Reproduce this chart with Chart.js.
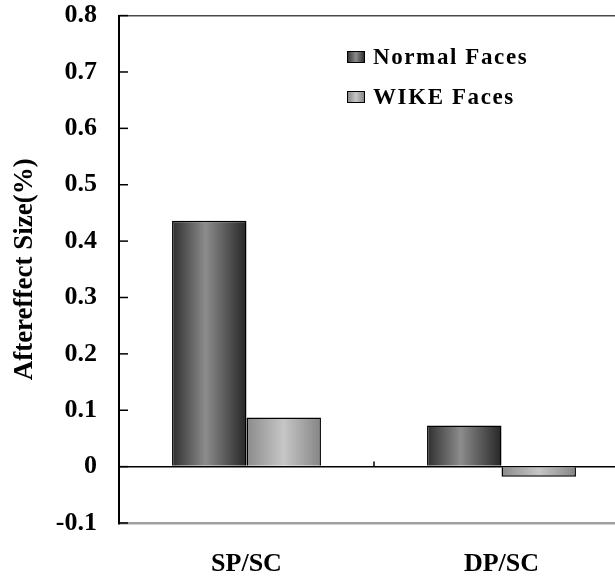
<!DOCTYPE html>
<html>
<head>
<meta charset="utf-8">
<script src="https://cdn.jsdelivr.net/npm/chart.js@4.4.1/dist/chart.umd.min.js"></script>
<style>
  html, body { margin: 0; padding: 0; background: #fff; overflow: hidden; }
  #wrap { position: relative; width: 615px; height: 579px; overflow: hidden; }
  #chart { position: absolute; left: 0; top: -22px; }
  .legend { position: absolute; left: 347px; font: bold 23px 'Liberation Serif', serif; letter-spacing: 1.6px; color: #000; }
  .legend-row { display: flex; align-items: center; height: 28px; }
  .swatch { width: 16px; height: 10px; border: 1px solid #000; margin-right: 8px; }
</style>
</head>
<body>
<div id="wrap">
  <canvas id="chart" width="629" height="601"></canvas>
  <div class="legend" id="legend" style="top:43px"></div>
</div>
<script>
const categories = ['SP/SC', 'DP/SC'];
const normalFaces = [0.436, 0.073];
const wikeFaces = [0.087, -0.018];
const seriesNames = ['Normal Faces', 'WIKE Faces'];
const yTickValues = [-0.1, 0, 0.1, 0.2, 0.3, 0.4, 0.5, 0.6, 0.7, 0.8];

const CAT_PCT = 0.584;
const FONT = "'Liberation Serif', serif";

// cylinder-like shading per series
const normalStops = [[0, '#2f2f2f'], [0.45, '#8c8c8c'], [1, '#262626']];
const wikeStops = [[0, '#8a8a8a'], [0.5, '#c6c6c6'], [1, '#858585']];

function barGradient(ctx, stops) {
  const chart = ctx.chart;
  const xs = chart.scales.x;
  if (!xs || ctx.dataIndex === undefined || !xs.width) return stops[1][1];
  const barW = (xs.width / categories.length) * CAT_PCT / 2;
  const center = xs.getPixelForValue(ctx.dataIndex);
  const left = center - barW + ctx.datasetIndex * barW;
  const g = chart.ctx.createLinearGradient(left, 0, left + barW, 0);
  stops.forEach(([p, c]) => g.addColorStop(p, c));
  return g;
}

function tickLabel(v) {
  const r = Math.round(v * 10) / 10;
  return r === 0 ? '0' : r.toFixed(1);
}

// inward tick marks on the y axis plus the small divider tick on the zero line
const innerTicks = {
  id: 'innerTicks',
  afterDraw(chart) {
    const { ctx, scales: { x, y } } = chart;
    ctx.save();
    ctx.strokeStyle = '#000';
    ctx.lineWidth = 1.5;
    yTickValues.forEach(v => {
      const py = y.getPixelForValue(v);
      ctx.beginPath();
      ctx.moveTo(y.right, py);
      ctx.lineTo(y.right + 9, py);
      ctx.stroke();
    });
    const mid = (x.getPixelForValue(0) + x.getPixelForValue(1)) / 2;
    const zy = y.getPixelForValue(0);
    ctx.beginPath();
    ctx.moveTo(mid, zy);
    ctx.lineTo(mid, zy - 5);
    ctx.stroke();
    ctx.restore();
  }
};

new Chart(document.getElementById('chart'), {
  type: 'bar',
  data: {
    labels: categories,
    datasets: [
      { label: seriesNames[0], data: normalFaces, backgroundColor: c => barGradient(c, normalStops),
        borderColor: '#000', borderWidth: 1.5, categoryPercentage: CAT_PCT, barPercentage: 1 },
      { label: seriesNames[1], data: wikeFaces, backgroundColor: c => barGradient(c, wikeStops),
        borderColor: '#000', borderWidth: 1.5, categoryPercentage: CAT_PCT, barPercentage: 1 }
    ]
  },
  options: {
    responsive: false,
    animation: false,
    devicePixelRatio: 1,
    layout: { padding: { top: 16, right: 0, left: 0, bottom: 0 } },
    plugins: { legend: { display: false }, tooltip: { enabled: false } },
    scales: {
      x: {
        grid: { display: false, drawTicks: false },
        border: { display: false },
        ticks: { color: '#000', padding: 26, font: { family: FONT, size: 26, weight: 'bold' } },
        afterFit: s => { s.height = 56; }
      },
      y: {
        min: -0.1,
        max: 0.8,
        afterBuildTicks: s => { s.ticks = yTickValues.map(v => ({ value: v })); },
        ticks: { color: '#000', padding: 22, callback: v => tickLabel(v), font: { family: FONT, size: 26, weight: 'bold' } },
        grid: {
          drawTicks: false,
          color: c => {
            const v = Math.round(c.tick.value * 10);
            if (v === 0) return '#000';
            if (v === -1) return '#a0a0a0';
            if (v === 8) return '#4a4a4a';
            return 'rgba(0,0,0,0)';
          },
          lineWidth: c => {
            const v = Math.round(c.tick.value * 10);
            return v === -1 ? 2.5 : 1.5;
          }
        },
        border: { color: '#000', width: 2 },
        title: { display: true, text: 'Aftereffect Size(%)', color: '#000', padding: { top: 9, bottom: 0 },
          font: { family: FONT, size: 27, weight: 'bold' } },
        afterFit: s => { s.width = 119; }
      }
    }
  },
  plugins: [innerTicks]
});

// legend built from series names
const legendSwatches = ['linear-gradient(90deg,#3a3a3a,#8c8c8c,#2e2e2e)', 'linear-gradient(90deg,#8a8a8a,#c6c6c6,#858585)'];
document.getElementById('legend').innerHTML = seriesNames.map((n, i) => `
  <div class="legend-row" style="margin-bottom:${i === 0 ? 12 : 0}px">
    <span class="swatch" style="background:${legendSwatches[i]}"></span>${n}
  </div>`).join('');
</script>
</body>
</html>
